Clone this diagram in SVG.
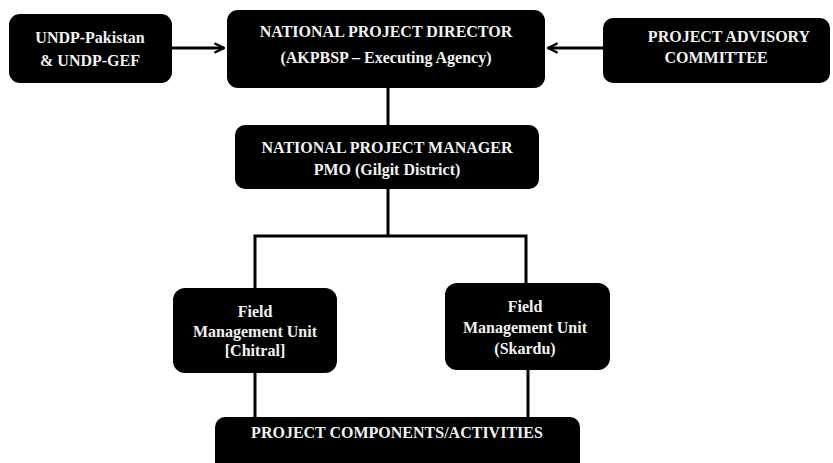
<svg xmlns="http://www.w3.org/2000/svg" width="833" height="463" viewBox="0 0 833 463">
<style>
.box{fill:#000}
.t{font-weight:bold;font-size:16px;fill:#f2f2f2;text-anchor:middle}
.c{stroke:#000;stroke-width:3;fill:none}
</style>
<defs>
<marker id="arr" viewBox="0 0 10 10" refX="9" refY="5" markerWidth="4" markerHeight="4" orient="auto" markerUnits="strokeWidth">
<path d="M1,1 L9,5 L1,9" fill="none" stroke="#000" stroke-width="2"/>
</marker>
</defs>
<g id="connectors">
<line class="c" x1="172" y1="48" x2="224" y2="48" marker-end="url(#arr)"/>
<line class="c" x1="603" y1="48" x2="548" y2="48" marker-end="url(#arr)"/>
<line class="c" x1="388" y1="88" x2="388" y2="125"/>
<polyline class="c" points="388,189 388,236"/>
<polyline class="c" points="255,288 255,236 526,236 526,283"/>
<line class="c" x1="255" y1="373" x2="255" y2="417"/>
<line class="c" x1="528" y1="370" x2="528" y2="417"/>
</g>
<g font-family="Liberation Serif, Times New Roman, DejaVu Serif, serif">
<g id="undp">
<rect class="box" x="9" y="14" width="163" height="69" rx="11"/>
<text class="t" x="90" y="43">UNDP-Pakistan</text>
<text class="t" x="90" y="66">&amp; UNDP-GEF</text>
</g>
<g id="director">
<rect class="box" x="227" y="10" width="318" height="78" rx="11"/>
<text class="t" x="386" y="37">NATIONAL PROJECT DIRECTOR</text>
<text class="t" x="386" y="63">(AKPBSP – Executing Agency)</text>
</g>
<g id="advisory">
<rect class="box" x="603" y="18" width="227" height="65" rx="10"/>
<text class="t" x="729" y="42">PROJECT ADVISORY</text>
<text class="t" x="716" y="63">COMMITTEE</text>
</g>
<g id="manager">
<rect class="box" x="235" y="125" width="304" height="64" rx="10"/>
<text class="t" x="387" y="153">NATIONAL PROJECT MANAGER</text>
<text class="t" x="387" y="175">PMO (Gilgit District)</text>
</g>
<g id="fmu-chitral">
<rect class="box" x="173" y="288" width="164" height="85" rx="12"/>
<text class="t" x="255" y="317">Field</text>
<text class="t" x="255" y="337">Management Unit</text>
<text class="t" x="255" y="356">[Chitral]</text>
</g>
<g id="fmu-skardu">
<rect class="box" x="445" y="283" width="165" height="87" rx="12"/>
<text class="t" x="525" y="312">Field</text>
<text class="t" x="525" y="333">Management Unit</text>
<text class="t" x="525" y="354">(Skardu)</text>
</g>
<g id="components">
<rect class="box" x="215" y="417" width="365" height="56" rx="10"/>
<text class="t" x="397" y="438">PROJECT COMPONENTS/ACTIVITIES</text>
</g>
</g>
</svg>
